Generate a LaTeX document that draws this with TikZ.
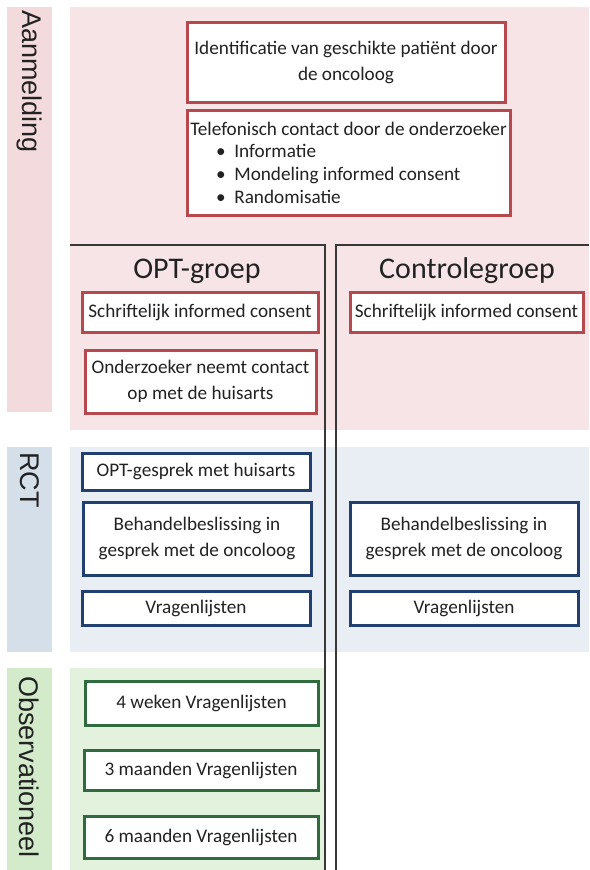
\documentclass[tikz,border=0pt]{standalone}
\usepackage{fontspec}
\setmainfont{Carlito}
\newfontfamily\zijfont{Liberation Sans}
\usetikzlibrary{positioning}
\definecolor{aanmBg}{HTML}{F7E4E6}
\definecolor{aanmBar}{HTML}{F3DADC}
\definecolor{aanmRand}{HTML}{B5494D}
\definecolor{rctBg}{HTML}{E9EEF5}
\definecolor{rctBar}{HTML}{D5DFE9}
\definecolor{rctRand}{HTML}{21406F}
\definecolor{obsBg}{HTML}{E3F2DD}
\definecolor{obsBar}{HTML}{D3EBCB}
\definecolor{obsRand}{HTML}{2F6B3F}
\definecolor{tekst}{HTML}{222222}

\begin{document}
\begin{tikzpicture}[x=1pt, y=-1pt,
		vak/.style={draw, fill=white, line width=3pt, inner sep=2pt, align=center,
			text=tekst, font=\fontsize{19.2}{26}\selectfont},
		rood/.style={vak, draw=aanmRand},
		blauw/.style={vak, draw=rctRand},
		groen/.style={vak, draw=obsRand},
		zijlabel/.style={rotate=-90, anchor=west, inner sep=2pt, text=tekst,
			font=\zijfont\fontsize{27}{30}\selectfont},
		groeptitel/.style={text=tekst, font=\fontsize{30}{34}\selectfont},
		kader/.style={draw=tekst!90, line width=1.4pt}]
		\useasboundingbox (0,0) rectangle (589,870);
		
		% achtergronden
		\fill[aanmBar] (7,7) rectangle (52,412);
		\fill[aanmBg] (70,7) rectangle (589,430);
		\fill[rctBar] (7,447) rectangle (52,652);
		\fill[rctBg] (70,447) rectangle (589,652);
		\fill[obsBar] (7,668) rectangle (52,870);
		\fill[obsBg] (70,668) rectangle (325,870);
		
		\node[zijlabel] (aanm) at (29.5,8) {Aanmelding};
		\node[zijlabel] (rct) at (29.5,450) {RCT};
		\node[zijlabel] (obs) at (29.5,674) {Observationeel};
		
		% aanmelding
		\node[rood, minimum width=318pt, minimum height=80pt] (ident) at (346,62)
			{Identificatie van geschikte patiënt door\\de oncoloog};
		\node[rood, minimum width=323pt, minimum height=105pt, align=left,
			font=\fontsize{19.2}{22.7}\selectfont] (tel) at (348.5,162.5)
			{Telefonisch contact door de onderzoeker\\
			\hspace*{1.35em}\textbullet\hspace{0.45em}Informatie\\
			\hspace*{1.35em}\textbullet\hspace{0.45em}Mondeling informed consent\\
			\hspace*{1.35em}\textbullet\hspace{0.45em}Randomisatie};
		
		% groepen
		\draw[kader] (70,245) -| (325,870);
		\draw[kader] (589,245) -| (336,870);
		\node[groeptitel] (opt) at (197,271) {OPT-groep};
		\node[groeptitel] (ctrl) at (467,271) {Controlegroep};
		
		\node[rood, minimum width=236pt, minimum height=40pt] (sic1) at (200,312)
			{Schriftelijk informed consent};
		\node[rood, minimum width=231pt, minimum height=63pt] (huis) at (200.5,381.5)
			{Onderzoeker neemt contact\\op met de huisarts};
		\node[rood, minimum width=233pt, minimum height=40pt] (sic2) at (466.5,312)
			{Schriftelijk informed consent};
		
		% rct
		\node[blauw, minimum width=228pt, minimum height=37pt] (gesprek) at (196,471.5)
			{OPT-gesprek met huisarts};
		\node[blauw, minimum width=228pt, minimum height=73pt] (beh1) at (197,538.5)
			{Behandelbeslissing in\\gesprek met de oncoloog};
		\node[blauw, minimum width=228pt, minimum height=73pt] (beh2) at (464,538.5)
			{Behandelbeslissing in\\gesprek met de oncoloog};
		\node[blauw, minimum width=228pt, minimum height=34pt] (vrl1) at (196,608)
			{Vragenlijsten};
		\node[blauw, minimum width=228pt, minimum height=34pt] (vrl2) at (464,608)
			{Vragenlijsten};
		
		% observationeel
		\node[groen, minimum width=233pt, minimum height=44pt] (wk4) at (201.5,703)
			{4 weken Vragenlijsten};
		\node[groen, minimum width=234pt, minimum height=40pt] (mnd3) at (201,770)
			{3 maanden Vragenlijsten};
		\node[groen, minimum width=234pt, minimum height=42pt] (mnd6) at (201,837)
			{6 maanden Vragenlijsten};
	\end{tikzpicture}
\end{document}
